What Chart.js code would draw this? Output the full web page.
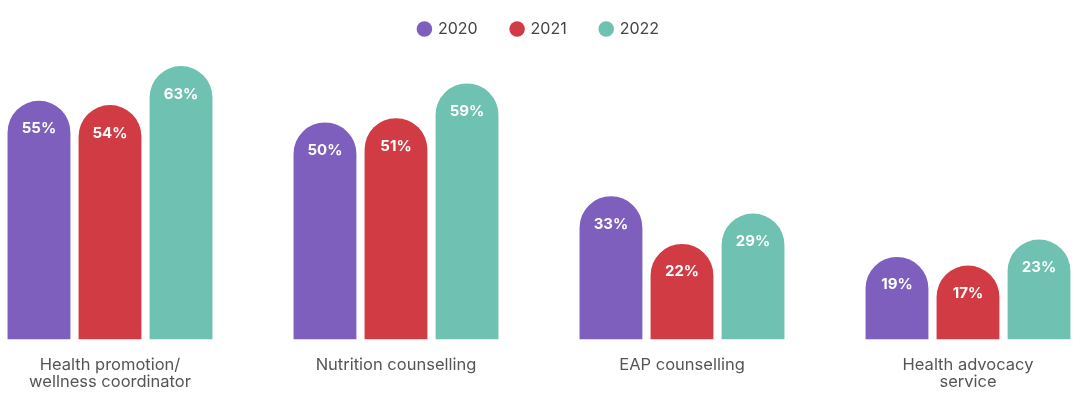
<!DOCTYPE html>
<html>
<head>
<meta charset="utf-8">
<script src="https://cdn.jsdelivr.net/npm/chart.js@4/dist/chart.umd.min.js"></script>
<style>
  html, body { margin: 0; padding: 0; background: #ffffff; }
  #wrap { width: 1080px; height: 405px; position: relative; }
</style>
</head>
<body>
<div id="wrap"><canvas id="c"></canvas></div>
<script>
const categories = [
  ["Health promotion/", "wellness coordinator"],
  "Nutrition counselling",
  "EAP counselling",
  ["Health advocacy", "service"]
];
const seriesNames = ["2020", "2021", "2022"];
const values2020 = [55, 50, 33, 19];
const values2021 = [54, 51, 22, 17];
const values2022 = [63, 59, 29, 23];
const seriesColors = ["#7f5fbe", "#d13c44", "#6fc1b2"];

const FONT = "Inter, 'Noto Sans', sans-serif";

const labelPlugin = {
  id: 'barLabels',
  afterDatasetsDraw(chart) {
    const ctx = chart.ctx;
    ctx.save();
    ctx.fillStyle = '#ffffff';
    ctx.font = "bold 15px " + FONT;
    ctx.textAlign = 'center';
    ctx.textBaseline = 'middle';
    chart.data.datasets.forEach((ds, di) => {
      const meta = chart.getDatasetMeta(di);
      meta.data.forEach((bar, i) => {
        ctx.fillText(ds.data[i] + '%', bar.x, bar.y + 28);
      });
    });
    ctx.restore();
  }
};

const seriesValues = [values2020, values2021, values2022];

new Chart(document.getElementById('c'), {
  type: 'bar',
  data: {
    labels: categories,
    datasets: seriesNames.map((name, k) => ({
      label: name,
      data: seriesValues[k],
      backgroundColor: seriesColors[k],
      borderWidth: 0,
      borderRadius: 200,
      borderSkipped: 'start',
      categoryPercentage: 0.745,
      barPercentage: 0.885,
      clip: false
    }))
  },
  options: {
    responsive: true,
    maintainAspectRatio: false,
    animation: false,
    layout: { padding: { left: 110, right: 112, top: -13, bottom: 5 } },
    plugins: {
      legend: {
        display: true,
        position: 'top',
        labels: {
          usePointStyle: true,
          pointStyle: 'circle',
          boxHeight: 11,
          boxWidth: 11,
          padding: 34,
          color: '#444444',
          font: { family: FONT, size: 16 }
        }
      },
      tooltip: { enabled: false }
    },
    scales: {
      x: {
        offset: false,
        grid: { display: false },
        border: { display: false },
        ticks: {
          color: '#555555',
          padding: 9,
          maxRotation: 0,
          autoSkip: false,
          font: { family: FONT, size: 16.5, lineHeight: 1.05 }
        }
      },
      y: {
        display: false,
        min: 0,
        max: 67.4
      }
    }
  },
  plugins: [labelPlugin]
});
</script>
</body>
</html>
